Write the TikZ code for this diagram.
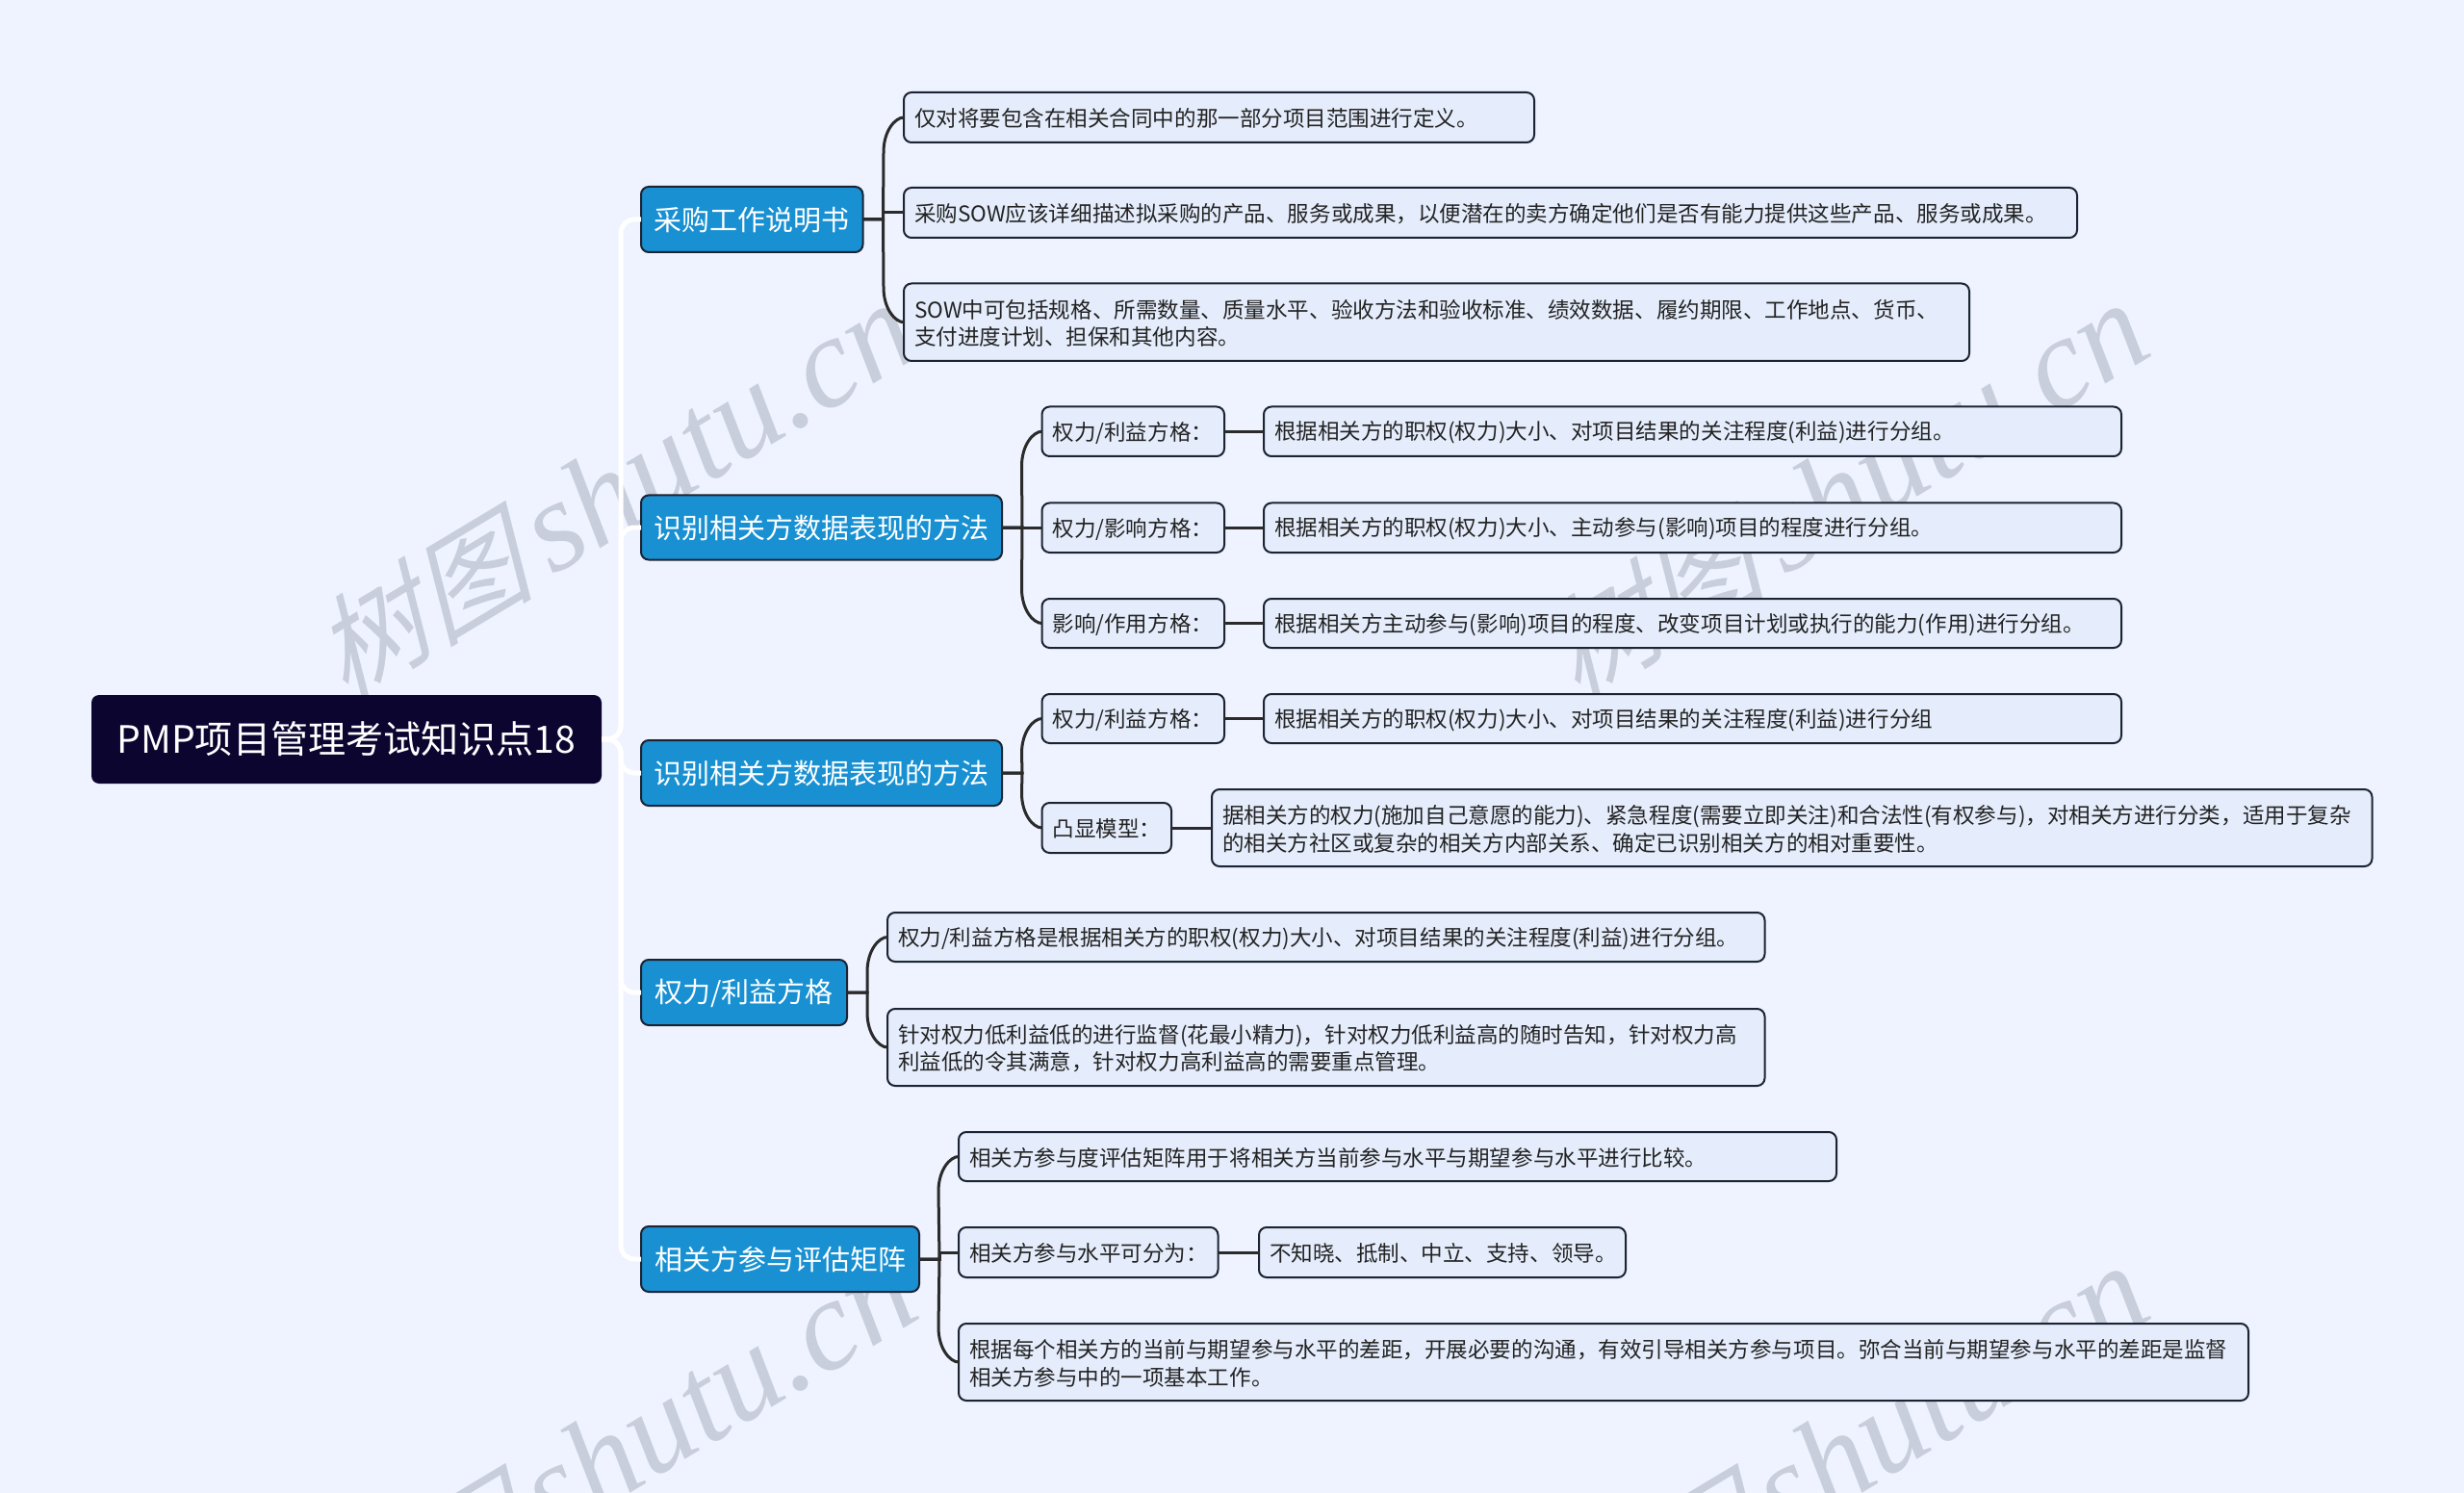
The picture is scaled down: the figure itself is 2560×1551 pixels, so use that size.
\documentclass[tikz,border=0pt]{standalone}
\usepackage{fontspec}
\setmainfont{Noto Sans CJK SC}
\newfontfamily\wmcjk[FakeSlant=0.3]{Noto Sans CJK SC}
\newfontfamily\wmlat{Liberation Serif}
\usetikzlibrary{calc}
\definecolor{bgc}{HTML}{EEF3FF}
\definecolor{rootc}{HTML}{0B0530}
\definecolor{bluec}{HTML}{1890D2}
\definecolor{leafc}{HTML}{E5EDFC}
\definecolor{edgec}{HTML}{1C2433}
\definecolor{linec}{HTML}{2B2B2B}
\definecolor{textc}{HTML}{232323}
\definecolor{wmc}{HTML}{C8CEDB}
\newcommand\stdp{0.12}
\tikzset{
  basebox/.style={rounded corners=4pt,inner xsep=5.5pt,inner ysep=0pt,outer sep=0pt},
  rootbox/.style={basebox,fill=rootc,text=white,align=center,font=\fontsize{19.55}{22}\selectfont},
  mainbox/.style={basebox,fill=bluec,draw=edgec,line width=1pt,text=white,align=center,font=\fontsize{14.5}{18}\selectfont},
  leafbox/.style={basebox,fill=leafc,draw=edgec,line width=1pt,text=textc,align=left,font=\fontsize{11.27}{14.25}\selectfont\def\stdp{0.04}},
  conn/.style={draw=linec,line width=1.5pt},
  rootlink/.style={draw=white,line width=2.5pt,rounded corners=7pt},
  wm/.style={text=wmc,rotate=31}
}
\newcommand\st{\rule[-\stdp em]{0pt}{1em}}
\newcommand\nd[7]{%
  \pgfmathsetmacro\tw{(#5-#3)*0.5-11}%
  \node[#1,anchor=north west,text width=\tw pt,minimum height={(#6-#4)*0.5pt}] (#2) at (#3,#4) {\st #7\st};}
\newcommand\wmark[2]{\node[wm] (#1) at (#2) {{\wmcjk\fontsize{58}{60}\selectfont 树图}\hspace{10pt}{\wmlat\itshape\fontsize{67}{70}\selectfont shutu.cn}};}
% parent, child, offset, control: curved branch
\newcommand\branch[4]{\draw[conn] (#1.east) -- ++(21,0) -- ($(#2.west)+(-21,#3)$) .. controls ($(#2.west)+(-21,#4)$) and ($(#2.west)+(-9,0)$) .. (#2.west);}
\newcommand\midbranch[2]{\draw[conn] (#1.east) -- ++(21,0) |- (#2.west);}
\begin{document}
\begin{tikzpicture}[x=0.5pt,y=-0.5pt]
\useasboundingbox[fill=bgc] (0,0) rectangle (2560,1551);
\wmark{w1}{637,510}
\wmark{w2}{1917,510}
\wmark{w3}{637,1510}
\wmark{w4}{1917,1510}

\nd{rootbox}{root}{95}{722}{625}{814}{PMP项目管理考试知识点18}
\nd{mainbox}{b1}{666}{194}{896.5}{262}{采购工作说明书}
\nd{mainbox}{b2}{666}{514.5}{1041}{581.5}{识别相关方数据表现的方法}
\nd{mainbox}{b3}{666}{769}{1041}{837}{识别相关方数据表现的方法}
\nd{mainbox}{b4}{666}{997}{880}{1065}{权力/利益方格}
\nd{mainbox}{b5}{666}{1274}{955}{1342}{相关方参与评估矩阵}

\nd{leafbox}{l1}{939}{96}{1594}{148}{仅对将要包含在相关合同中的那一部分项目范围进行定义。}
\nd{leafbox}{l2}{939}{195}{2158}{247}{采购SOW应该详细描述拟采购的产品、服务或成果，以便潜在的卖方确定他们是否有能力提供这些产品、服务或成果。}
\nd{leafbox}{l3}{939}{294.5}{2046}{375}{SOW中可包括规格、所需数量、质量水平、验收方法和验收标准、绩效数据、履约期限、工作地点、货币、\\支付进度计划、担保和其他内容。}

\nd{leafbox}{a1}{1082.5}{422.5}{1272}{474}{权力/利益方格：}
\nd{leafbox}{a2}{1082.5}{522.5}{1272}{574}{权力/影响方格：}
\nd{leafbox}{a3}{1082.5}{622}{1272}{673}{影响/作用方格：}
\nd{leafbox}{a1d}{1313}{422.5}{2204}{474}{根据相关方的职权(权力)大小、对项目结果的关注程度(利益)进行分组。}
\nd{leafbox}{a2d}{1313}{522.5}{2204}{574}{根据相关方的职权(权力)大小、主动参与(影响)项目的程度进行分组。}
\nd{leafbox}{a3d}{1313}{622}{2204}{673}{根据相关方主动参与(影响)项目的程度、改变项目计划或执行的能力(作用)进行分组。}

\nd{leafbox}{c1}{1082.5}{721}{1272}{772}{权力/利益方格：}
\nd{leafbox}{c2}{1082.5}{834}{1217}{886}{凸显模型：}
\nd{leafbox}{c1d}{1313}{721}{2204}{772}{根据相关方的职权(权力)大小、对项目结果的关注程度(利益)进行分组}
\nd{leafbox}{c2d}{1259}{820}{2464.5}{900}{据相关方的权力(施加自己意愿的能力)、紧急程度(需要立即关注)和合法性(有权参与)，对相关方进行分类，适用于复杂\\的相关方社区或复杂的相关方内部关系、确定已识别相关方的相对重要性。}

\nd{leafbox}{d1}{922}{948}{1833.5}{999}{权力/利益方格是根据相关方的职权(权力)大小、对项目结果的关注程度(利益)进行分组。}
\nd{leafbox}{d2}{922}{1048}{1833.5}{1128}{针对权力低利益低的进行监督(花最小精力)，针对权力低利益高的随时告知，针对权力高\\利益低的令其满意，针对权力高利益高的需要重点管理。}

\nd{leafbox}{e1}{996}{1176}{1908}{1227}{相关方参与度评估矩阵用于将相关方当前参与水平与期望参与水平进行比较。}
\nd{leafbox}{e2}{996}{1275}{1265.5}{1327}{相关方参与水平可分为：}
\nd{leafbox}{e2d}{1308}{1275}{1689}{1327}{不知晓、抵制、中立、支持、领导。}
\nd{leafbox}{e3}{996}{1375}{2336}{1455}{根据每个相关方的当前与期望参与水平的差距，开展必要的沟通，有效引导相关方参与项目。弥合当前与期望参与水平的差距是监督\\相关方参与中的一项基本工作。}

\foreach \t in {b1,b2,b3,b4,b5}{\draw[rootlink] (root.east) -- ++(20,0) |- (\t.west);}

\branch{b1}{l1}{36}{14}
\midbranch{b1}{l2}
\branch{b1}{l3}{-36}{-14}
\branch{b2}{a1}{36}{14}
\midbranch{b2}{a2}
\branch{b2}{a3}{-36}{-14}
\branch{b3}{c1}{36}{14}
\branch{b3}{c2}{-36}{-14}
\branch{b4}{d1}{36}{14}
\branch{b4}{d2}{-36}{-14}
\branch{b5}{e1}{36}{14}
\midbranch{b5}{e2}
\branch{b5}{e3}{-36}{-14}
\draw[conn] (a1.east) -- (a1d.west);
\draw[conn] (a2.east) -- (a2d.west);
\draw[conn] (a3.east) -- (a3d.west);
\draw[conn] (c1.east) -- (c1d.west);
\draw[conn] (c2.east) -- (c2d.west);
\draw[conn] (e2.east) -- (e2d.west);
\end{tikzpicture}
\end{document}
